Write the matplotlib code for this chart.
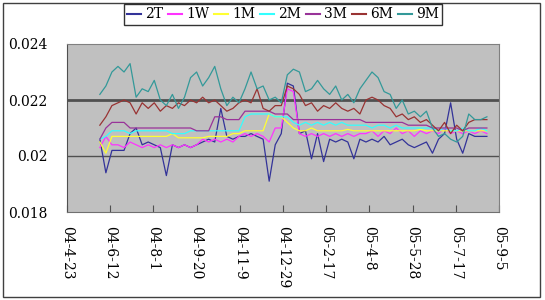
import matplotlib
matplotlib.use("Agg")
import matplotlib.pyplot as plt
import pandas as pd

# weekly samples
dates = pd.date_range("2004-05-31", periods=65, freq="7D")

s_2t = [
    .0206, .0194, .0202, .0202, .0202, .0208, .0210, .0204, .0205, .0204,
    .0203, .0193, .0204, .0203, .0204, .0203, .0204, .0205, .0206, .0205,
    .0217, .0207, .0206, .0207, .0207, .0208, .0207, .0206, .0191, .0204,
    .0208, .0226, .0225, .0208, .0209, .0199, .0208, .0198, .0206, .0205,
    .0206, .0205, .0199, .0206, .0205, .0206, .0205, .0207, .0204, .0205,
    .0206, .0204, .0203, .0204, .0205, .0201, .0206, .0208, .0219, .0206,
    .0201, .0208, .0207, .0207, .0207]
s_1w = [
    .0203, .0207, .0204, .0204, .0203, .0205, .0204, .0203, .0204, .0203,
    .0204, .0203, .0204, .0203, .0204, .0203, .0204, .0206, .0205, .0206,
    .0205, .0206, .0205, .0207, .0208, .0207, .0208, .0207, .0205, .0210,
    .0210, .0224, .0223, .0208, .0207, .0208, .0207, .0208, .0207, .0208,
    .0207, .0208, .0207, .0208, .0208, .0209, .0207, .0209, .0208, .0210,
    .0208, .0209, .0207, .0209, .0208, .0209, .0208, .0210, .0208, .0209,
    .0208, .0209, .0208, .0209, .0208]
s_1m = [
    .0205, .0201, .0207, .0207, .0207, .0207, .0207, .0207, .0207, .0207,
    .0207, .0207, .0208, .02065, .02065, .02065, .02065, .02065, .0207, .0207,
    .0207, .0207, .0208, .0208, .0209, .0209, .0209, .0209, .0215, .0214,
    .0214, .0212, .0210, .0209, .0209, .0210, .0209, .0209, .0209, .0209,
    .0209, .02095, .0209, .0209, .0209, .0209, .0209, .0209, .0209, .0209,
    .0209, .0209, .0209, .02095, .0209, .0209, .0209, .0209, .0209, .0209,
    .0209, .0209, .0209, .0209, .0209]
s_2m = [
    .0206, .0207, .0209, .0209, .0209, .0208, .0209, .0209, .0209, .0209,
    .0209, .0209, .0208, .0208, .0208, .0209, .0209, .0209, .0209, .0209,
    .0209, .0209, .0209, .0209, .0214, .0215, .0215, .0215, .0215, .0214,
    .0214, .0214, .0212, .0211, .0212, .0211, .0212, .0211, .0212, .0211,
    .0212, .0211, .0211, .0211, .0211, .0210, .0211, .0211, .0210, .0211,
    .0210, .0210, .0210, .0210, .0210, .0210, .0209, .0210, .0209, .0209,
    .0210, .0209, .0209, .0210, .0209]
s_3m = [
    .0206, .0210, .0212, .0212, .0212, .0210, .0210, .0210, .0210, .0210,
    .0210, .0210, .0210, .0210, .0210, .0210, .0209, .0209, .0209, .0214,
    .0214, .0213, .0213, .0213, .0216, .0216, .0216, .0216, .0216, .0215,
    .0215, .0215, .0213, .0213, .0213, .0213, .0213, .0213, .0213, .0213,
    .0213, .0213, .0213, .0213, .0212, .0212, .0212, .0212, .0212, .0212,
    .0212, .0211, .0211, .0211, .0211, .0210, .0210, .0210, .0210, .0210,
    .0209, .0210, .0210, .0210, .0210]
s_6m = [
    .0211, .0214, .0218, .0219, .0220, .0219, .0215, .0219, .0217, .0219,
    .0216, .0218, .0217, .0219, .0218, .0220, .0219, .0221, .0219, .0220,
    .0218, .0216, .0217, .0219, .0220, .0219, .0224, .0217, .0216, .0218,
    .0218, .0225, .0224, .0222, .0218, .0219, .0216, .0218, .0217, .0219,
    .0217, .0216, .0217, .0215, .0220, .0221, .0220, .0218, .0217, .0214,
    .0215, .0213, .0214, .0212, .0213, .0211, .0209, .0212, .0208, .0211,
    .0209, .0212, .0213, .0213, .0213]
s_9m = [
    .0222, .0225, .0230, .0232, .0230, .0233, .0221, .0224, .0223, .0227,
    .0220, .0218, .0222, .0217, .0221, .0228, .0230, .0225, .0228, .0232,
    .0224, .0218, .0221, .0219, .0224, .0230, .0224, .0225, .0220, .0221,
    .0219, .0229, .0231, .0230, .0223, .0224, .0227, .0224, .0222, .0225,
    .0220, .0222, .0219, .0224, .0227, .0230, .0228, .0223, .0222, .0217,
    .0220, .0215, .0216, .0214, .0216, .0210, .0207, .0208, .0206, .0205,
    .0207, .0215, .0213, .0213, .0214]

names = ["2T", "1W", "1M", "2M", "3M", "6M", "9M"]
series = [s_2t, s_1w, s_1m, s_2m, s_3m, s_6m, s_9m]
colors = ["#333399", "#FF33FF", "#FFFF33", "#33FFFF", "#993399", "#993333", "#339999"]

y_ticks = [0.018, 0.020, 0.022, 0.024]
y_labels = ["0.018", "0.02", "0.022", "0.024"]
x_ticks = pd.date_range("2004-04-23", periods=11, freq="50D")
x_labels = ["04-4-23", "04-6-12", "04-8-1", "04-9-20", "04-11-9", "04-12-29",
            "05-2-17", "05-4-8", "05-5-28", "05-7-17", "05-9-5"]

plt.rcParams["font.family"] = ["DejaVu Serif"]

fig = plt.figure(figsize=(5.45, 3.0), dpi=100)
ax = fig.add_axes([67 / 545, 1 - 212 / 300, 432 / 545, 168 / 300])
ax.set_facecolor("#C0C0C0")

for name, vals, c in zip(names, series, colors):
    ax.plot(dates, vals, color=c, lw=0.9, label=name)

ax.set_xlim(x_ticks[0], x_ticks[-1])
ax.set_ylim(0.018, 0.024)
ax.set_yticks(y_ticks)
ax.set_yticklabels(y_labels, fontsize=10)
ax.set_xticks(x_ticks)
ax.set_xticklabels(x_labels, rotation=-90, fontsize=10, va="top", ha="center")

ax.grid(axis="y", color="#505050")
gl = ax.get_ygridlines()
gl[1].set_linewidth(1.0)
gl[2].set_linewidth(2.0)
gl[0].set_visible(False)
gl[3].set_visible(False)
ax.set_axisbelow(True)

ax.tick_params(axis="x", direction="in", length=5, color="#505050", pad=10)
ax.tick_params(axis="y", length=0, pad=14)
for sp in ax.spines.values():
    sp.set_color("#808080")
ax.spines["left"].set_color("#505050")
ax.spines["bottom"].set_color("#707070")

leg = fig.legend(loc="center", bbox_to_anchor=(283 / 545, 1 - 14.5 / 300), ncol=7,
                 fontsize=10, frameon=True, fancybox=False, edgecolor="black",
                 handlelength=1.0, handletextpad=0.3, columnspacing=0.35,
                 borderpad=0.25, borderaxespad=0)
leg.get_frame().set_linewidth(1.0)
for line in leg.get_lines():
    line.set_linewidth(1.5)

fig.add_artist(plt.Rectangle((3 / 545, 3 / 300), 537 / 545, 294 / 300,
                             transform=fig.transFigure, fill=False,
                             edgecolor="#404040", lw=1))

fig.savefig("out.png", dpi=100)
